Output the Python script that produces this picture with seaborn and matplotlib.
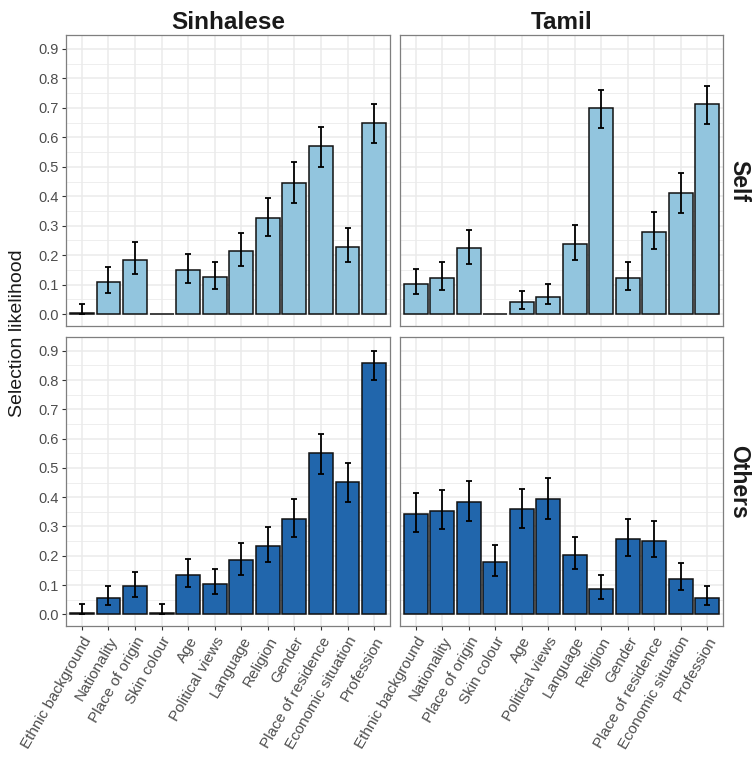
import matplotlib
matplotlib.use("Agg")
import matplotlib.pyplot as plt
import seaborn as sns
import numpy as np
import pandas as pd

categories = ["Ethnic background", "Nationality", "Place of origin", "Skin colour",
              "Age", "Political views", "Language", "Religion", "Gender",
              "Place of residence", "Economic situation", "Profession"]

groups = ["Sinhalese", "Tamil"]
targets = ["Self", "Others"]

sin_self = [0.005, 0.108, 0.185, 0.0, 0.150, 0.125, 0.214, 0.327, 0.446, 0.571, 0.228, 0.649]
sin_self_lo = [0.0, 0.072, 0.135, 0.0, 0.105, 0.086, 0.162, 0.266, 0.378, 0.500, 0.176, 0.580]
sin_self_hi = [0.035, 0.161, 0.245, 0.0, 0.205, 0.178, 0.276, 0.395, 0.515, 0.636, 0.291, 0.712]

tam_self = [0.102, 0.122, 0.223, 0.0, 0.040, 0.060, 0.238, 0.699, 0.122, 0.279, 0.410, 0.713]
tam_self_lo = [0.067, 0.083, 0.170, 0.0, 0.018, 0.034, 0.185, 0.630, 0.082, 0.221, 0.344, 0.645]
tam_self_hi = [0.153, 0.176, 0.285, 0.0, 0.079, 0.104, 0.303, 0.759, 0.176, 0.345, 0.480, 0.774]

sin_oth = [0.005, 0.054, 0.095, 0.005, 0.135, 0.104, 0.185, 0.233, 0.327, 0.550, 0.452, 0.858]
sin_oth_lo = [0.0, 0.031, 0.060, 0.0, 0.093, 0.068, 0.135, 0.179, 0.265, 0.480, 0.383, 0.800]
sin_oth_hi = [0.034, 0.096, 0.143, 0.034, 0.189, 0.155, 0.243, 0.297, 0.394, 0.617, 0.518, 0.899]

tam_oth = [0.343, 0.353, 0.384, 0.177, 0.359, 0.394, 0.203, 0.085, 0.258, 0.252, 0.122, 0.057]
tam_oth_lo = [0.281, 0.290, 0.319, 0.130, 0.294, 0.327, 0.153, 0.053, 0.200, 0.196, 0.083, 0.031]
tam_oth_hi = [0.413, 0.423, 0.454, 0.237, 0.429, 0.465, 0.264, 0.134, 0.324, 0.318, 0.174, 0.098]

yticks = [0.0, 0.1, 0.2, 0.3, 0.4, 0.5, 0.6, 0.7, 0.8, 0.9]
ytick_labels = ["0.0", "0.1", "0.2", "0.3", "0.4", "0.5", "0.6", "0.7", "0.8", "0.9"]

colors = {"Self": "#92C5DE", "Others": "#2166AC"}

data = {
    ("Self", "Sinhalese"): (sin_self, sin_self_lo, sin_self_hi),
    ("Self", "Tamil"): (tam_self, tam_self_lo, tam_self_hi),
    ("Others", "Sinhalese"): (sin_oth, sin_oth_lo, sin_oth_hi),
    ("Others", "Tamil"): (tam_oth, tam_oth_lo, tam_oth_hi),
}

sns.set_theme(style="white")
plt.rcParams['font.family'] = ['Liberation Sans', 'DejaVu Sans']

W, H = 753, 760
fig = plt.figure(figsize=(W / 100, H / 100), dpi=100)

px_cols = [(66, 390), (400, 723)]
px_rows = [(35, 326), (337, 626)]

for r, tgt in enumerate(targets):
    for c, grp in enumerate(groups):
        x0, x1 = px_cols[c]
        y0, y1 = px_rows[r]
        ax = fig.add_axes([x0 / W, 1 - y1 / H, (x1 - x0) / W, (y1 - y0) / H])
        vals, lo, hi = data[(tgt, grp)]
        df = pd.DataFrame({"cat": categories, "val": vals})
        # grid
        for yv in np.arange(-0.0, 0.95, 0.05):
            major = abs(round(yv * 20) % 2) == 0
            ax.axhline(yv, color="#EBEBEB", lw=1.1 if major else 0.6, zorder=0)
        for i in range(len(categories)):
            ax.axvline(i, color="#EBEBEB", lw=1.1, zorder=0)
        sns.barplot(data=df, x="cat", y="val", order=categories, color=colors[tgt],
                    edgecolor="#111111", linewidth=1.1, width=0.9, saturation=1,
                    errorbar=None, ax=ax, zorder=2)
        v = np.array(vals); l = np.array(lo); h = np.array(hi)
        mask = h > 0
        xs = np.arange(len(categories))
        ax.errorbar(xs[mask], v[mask], yerr=[v[mask] - l[mask], h[mask] - v[mask]],
                    fmt="none", ecolor="black", elinewidth=1.3, capsize=2.2,
                    capthick=1.3, zorder=3)
        ax.set_xlim(-0.6, len(categories) - 0.4)
        ax.set_ylim(-0.04, 0.947)
        ax.set_xlabel("")
        ax.set_ylabel("")
        ax.set_yticks(yticks)
        ax.set_xticks(xs)
        for s in ax.spines.values():
            s.set_color("#7F7F7F")
            s.set_linewidth(0.9)
            s.set_visible(True)
        ax.tick_params(axis="both", length=3, width=0.8, color="#333333",
                       labelcolor="#4D4D4D", labelsize=10.5, pad=2)
        if c == 0:
            ax.set_yticklabels(ytick_labels)
            ax.tick_params(axis="y", left=True)
        else:
            ax.set_yticklabels([])
            ax.tick_params(axis="y", left=False)
        if r == 1:
            ax.set_xticklabels(categories, rotation=60, ha="right",
                               rotation_mode="anchor", fontsize=11)
            ax.tick_params(axis="x", bottom=True, pad=3)
        else:
            ax.set_xticklabels([])
            ax.tick_params(axis="x", bottom=False)
        if r == 0:
            ax.set_title(grp, fontsize=17.5, fontweight="bold", color="#1A1A1A", pad=4)
        if c == 1:
            ax.text(1.012, 0.5, tgt, transform=ax.transAxes, rotation=270,
                    ha="left", va="center", fontsize=16.5, fontweight="bold",
                    color="#1A1A1A")

fig.text(18 / W, 1 - 333 / H, "Selection likelihood", rotation=90,
         ha="center", va="center", fontsize=14, color="#1A1A1A")

fig.savefig("out.png", dpi=100)
